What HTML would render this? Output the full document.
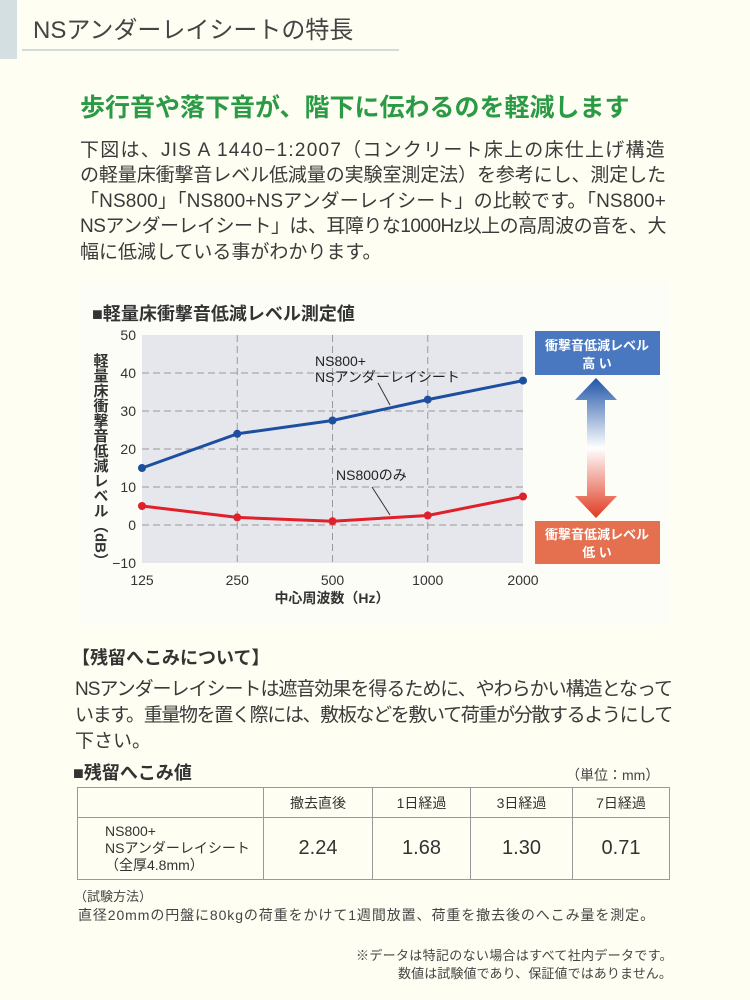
<!DOCTYPE html>
<html><head><meta charset="utf-8">
<style>
*{margin:0;padding:0;box-sizing:border-box}
body{width:750px;height:1000px;background:#fefef2;position:relative;overflow:hidden;font-family:"Liberation Sans","Noto Sans CJK JP",sans-serif;color:#333}
.a{position:absolute;white-space:nowrap}
.p{font-size:19px;color:#3a3a3a}
td{border:1px solid #999;text-align:center;color:#333}
</style></head><body>
<div class="a" style="left:0;top:0;width:17px;height:59px;background:#d3dfe0"></div>
<div class="a" style="left:33px;top:10px;font-size:24px;color:#444">NSアンダーレイシートの特長</div>
<div class="a" style="left:22px;top:49px;width:377px;height:2px;background:#cfdcdf"></div>
<div class="a" style="left:80px;top:88px;font-size:25px;font-weight:bold;color:#2a9a45">歩行音や落下音が、階下に伝わるのを軽減します</div>
<div class="a p fit" data-w="586" style="left:80px;top:135px">下図は、JIS A 1440−1:2007（コンクリート床上の床仕上げ構造</div>
<div class="a p fit" data-w="586" style="left:80px;top:160px">の軽量床衝撃音レベル低減量の実験室測定法）を参考にし、測定した</div>
<div class="a p fit" data-w="586" style="left:80px;top:186px">「NS800」「NS800+NSアンダーレイシート」の比較です。「NS800+</div>
<div class="a p fit" data-w="586" style="left:80px;top:211px">NSアンダーレイシート」は、耳障りな1000Hz以上の高周波の音を、大</div>
<div class="a p" style="left:80px;top:237px">幅に低減している事がわかります。</div>

<svg class="a" style="left:80px;top:280px" width="590" height="345" viewBox="80 280 590 345">
<rect x="80" y="280" width="590" height="345" fill="#fdfdf8"/>
<text x="92" y="320" font-size="18" font-weight="bold" fill="#333">■軽量床衝撃音低減レベル測定値</text>
<g id="plot"></g>
<g>
<defs><linearGradient id="ag" x1="0" y1="0" x2="0" y2="1"><stop offset="0" stop-color="#1f55a8"/><stop offset="0.5" stop-color="#ffffff"/><stop offset="1" stop-color="#e03a20"/></linearGradient></defs>
<path d="M596,378 L617,400 L605,400 L605,496 L617,496 L596,518 L575,496 L587,496 L587,400 L575,400 Z" fill="url(#ag)"/>
<rect x="535" y="331" width="125" height="44" fill="#4a78c0"/>
<text x="597" y="350" font-size="13" font-weight="bold" fill="#fff" text-anchor="middle">衝撃音低減レベル</text>
<text x="597" y="368" font-size="13" font-weight="bold" fill="#fff" text-anchor="middle">高 い</text>
<rect x="535" y="521" width="125" height="43" fill="#e57050"/>
<text x="597" y="539" font-size="13" font-weight="bold" fill="#fff" text-anchor="middle">衝撃音低減レベル</text>
<text x="597" y="557" font-size="13" font-weight="bold" fill="#fff" text-anchor="middle">低 い</text>
</g>
</svg>

<div class="a" style="left:72px;top:644px;font-size:18px;font-weight:bold;color:#333">【残留へこみについて】</div>
<div class="a p fit" data-w="597" style="left:75px;top:674px">NSアンダーレイシートは遮音効果を得るために、やわらかい構造となって</div>
<div class="a p fit" data-w="597" style="left:75px;top:700px">います。重量物を置く際には、敷板などを敷いて荷重が分散するようにして</div>
<div class="a p" style="left:75px;top:726px">下さい。</div>
<div class="a" style="left:73px;top:759px;font-size:18px;font-weight:bold;color:#333">■残留へこみ値</div>
<div class="a" style="left:566px;top:765px;font-size:14px;color:#444">（単位：mm）</div>
<table class="a" style="left:77px;top:787px;width:593px;border-collapse:collapse;font-size:14px">
<tr style="height:30px"><td style="width:186px"></td><td style="width:109px">撤去直後</td><td style="width:98px">1日経過</td><td style="width:102px">3日経過</td><td>7日経過</td></tr>
<tr style="height:62px"><td style="text-align:left;padding-left:27px;font-size:14px;line-height:17px">NS800+<br>NSアンダーレイシート<br>（全厚4.8mm）</td><td style="font-size:20px">2.24</td><td style="font-size:20px">1.68</td><td style="font-size:20px">1.30</td><td style="font-size:20px">0.71</td></tr>
</table>
<div class="a" style="left:74px;top:886px;font-size:13px;color:#444">（試験方法）</div>
<div class="a fit" data-w="577" style="left:78px;top:905px;font-size:14px;color:#444">直径20mmの円盤に80kgの荷重をかけて1週間放置、荷重を撤去後のへこみ量を測定。</div>
<div class="a fit" data-w="317" style="left:356px;top:945px;font-size:13px;color:#444">※データは特記のない場合はすべて社内データです。</div>
<div class="a fit" data-w="274" style="left:398px;top:963px;font-size:13px;color:#444">数値は試験値であり、保証値ではありません。</div>

<script>
document.querySelectorAll('.fit').forEach(el=>{
 const target=+el.getAttribute('data-w');
 const w=el.getBoundingClientRect().width;
 const n=el.textContent.length;
 el.style.letterSpacing=((target-w)/n)+'px';
});
</script>
<script>
const categories=["125","250","500","1000","2000"];
const underlaySeries=[15,24,27.5,33,38];
const ns800Series=[5,2,1,2.5,7.5];
const yTicks=[50,40,30,20,10,0,-10];
const NS="http://www.w3.org/2000/svg";
const X0=142,X1=523,Y0=335,Y1=563,YMAX=50,YMIN=-10;
const xs=i=>X0+(X1-X0)*i/(categories.length-1);
const ys=v=>Y0+(YMAX-v)*(Y1-Y0)/(YMAX-YMIN);
const g=document.getElementById('plot');
function mk(t,a,txt){const e=document.createElementNS(NS,t);for(const k in a)e.setAttribute(k,a[k]);if(txt!==undefined)e.textContent=txt;g.appendChild(e);return e;}
let bg=mk('rect',{x:X0,y:Y0,width:X1-X0,height:Y1-Y0,fill:'#e6e7ec'});


yTicks.forEach(v=>{
 if(v>YMIN&&v<YMAX){let l=mk('line',{x1:X0,x2:X1,y1:ys(v),y2:ys(v),stroke:'#999','stroke-dasharray':'7,4','stroke-width':1});
 
 }
 let t=mk('text',{x:X0-6,y:ys(v)+5,'font-size':14,'text-anchor':'end',fill:'#333'},v<0?'−'+(-v):String(v));
 
 
});
categories.forEach((c,i)=>{
 if(i>0&&i<categories.length-1){let l=mk('line',{x1:xs(i),x2:xs(i),y1:Y0,y2:Y1,stroke:'#999','stroke-dasharray':'7,4'});
 
 }
 let t=mk('text',{x:xs(i),y:585,'font-size':14,'text-anchor':'middle',fill:'#333'},c);
 
 
});
let xt=mk('text',{x:332,y:603,'font-size':14,'font-weight':'bold','text-anchor':'middle',fill:'#333'},'中心周波数（Hz）');


let yt=mk('text',{x:100,y:353,'font-size':15,'font-weight':'bold',fill:'#333','writing-mode':'tb','glyph-orientation-vertical':'0'},'軽量床衝撃音低減レベル（dB）');


function series(vals,color,name){
 let pl=mk('polyline',{points:vals.map((v,i)=>xs(i)+','+ys(v)).join(' '),fill:'none',stroke:color,'stroke-width':3});
 
 
 vals.forEach((v,i)=>{let c=mk('circle',{cx:xs(i),cy:ys(v),r:4,fill:color});
 
 });
}
series(underlaySeries,'#1d4fa0','underlay');
series(ns800Series,'#e0202a','ns800');
mk('line',{x1:378,y1:383,x2:390,y2:405,stroke:'#333'});
mk('line',{x1:372,y1:487,x2:390,y2:515,stroke:'#333'});
let l1=mk('text',{x:315,y:366,'font-size':14,fill:'#222'},'NS800+');


mk('text',{x:315,y:382,'font-size':14,fill:'#222'},'NSアンダーレイシート');
let l2=mk('text',{x:336,y:480,'font-size':14,fill:'#222'},'NS800のみ');


</script>
</body></html>
